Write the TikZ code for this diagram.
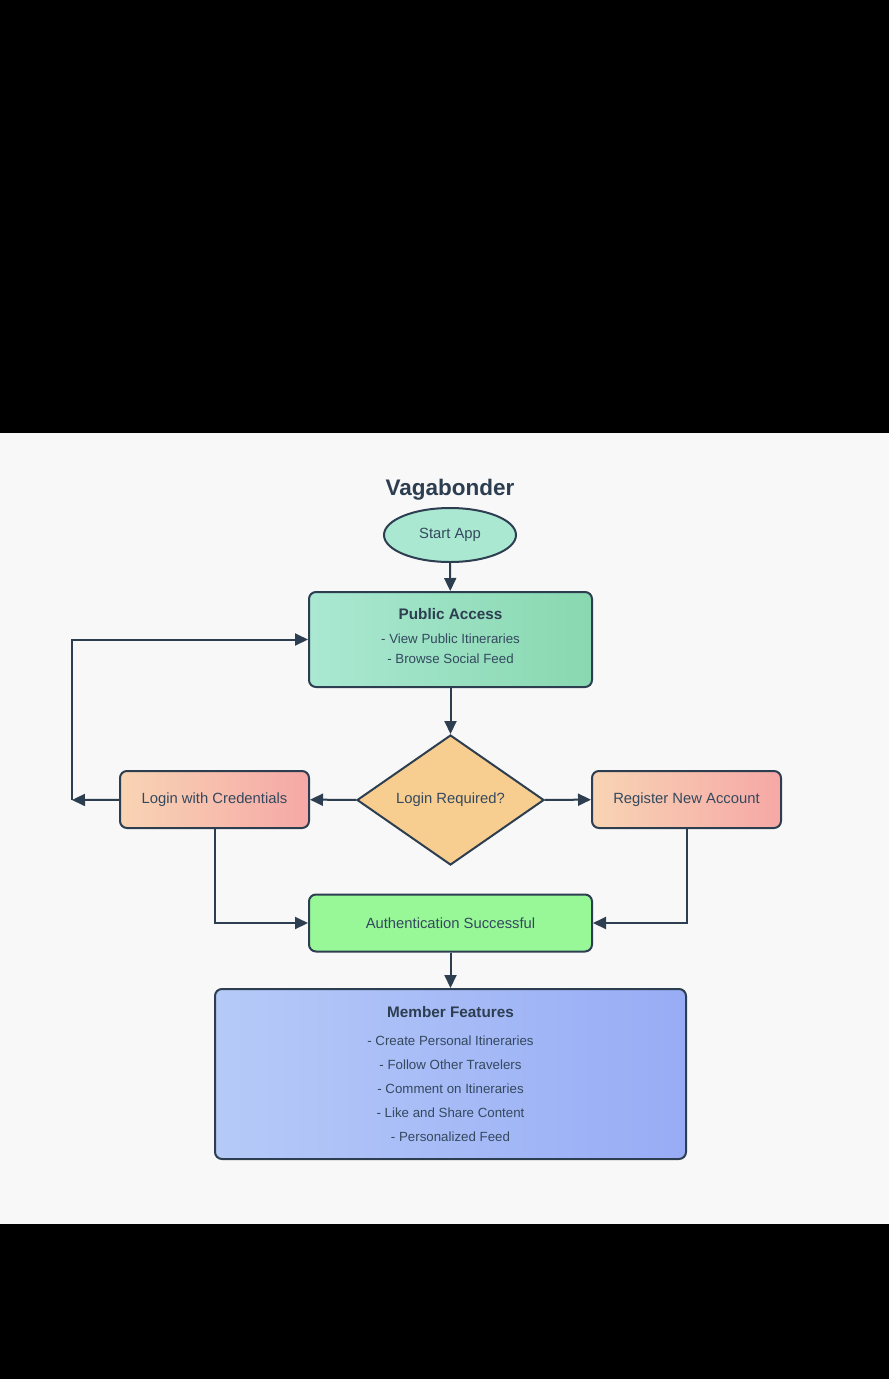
\documentclass[tikz,border=0pt]{standalone}
\usepackage{fontspec}
\setmainfont{Liberation Sans}
\usetikzlibrary{shapes.geometric,arrows.meta}

\definecolor{ink}{HTML}{2C3E50}
\definecolor{txt}{HTML}{34495E}
\definecolor{paper}{HTML}{F8F8F8}
\definecolor{mintA}{HTML}{AAE8D2}
\definecolor{mintB}{HTML}{88D8B0}
\definecolor{peachA}{HTML}{F8D4B4}
\definecolor{peachB}{HTML}{F6A8A6}
\definecolor{amber}{HTML}{F8CE90}
\definecolor{lime}{HTML}{98F898}
\definecolor{blueA}{HTML}{B6CAF8}
\definecolor{blueB}{HTML}{97ACF5}

\tikzset{
  base/.style={draw=ink, line width=2pt, text=txt, inner sep=0pt, align=center},
  box/.style={base, rectangle, rounded corners=7pt},
  flow/.style={draw=ink, line width=2pt, -{Triangle[length=13pt,width=12pt]}},
  body/.style={font=\fontsize{14.8}{17}\selectfont},
  list/.style={text=txt, align=center, inner sep=0pt},
}

\begin{document}
\begin{tikzpicture}[x=1pt,y=-1pt]
  % page and canvas
  \fill[black] (0,0) rectangle (889,1379);
  \fill[paper] (0,433) rectangle (889,1224);
  \useasboundingbox (0,0) rectangle (889,1379);

  % title
  \node[text=ink, font=\fontsize{22.5}{26}\selectfont\bfseries] (title) at (450,490) {Vagabonder};

  % start
  \node[base, ellipse, fill=mintA, minimum width=132pt, minimum height=54pt, body] (start) at (450,535) {Start App};

  % public area: box and its text block
  \node[box, left color=mintA, right color=mintB, minimum width=283pt, minimum height=95pt] (public) at (450.5,639.5) {};
  \node[list, font=\fontsize{13.3}{20}\selectfont] (publictext) at (450.5,636.5)
        {{\fontsize{15.3}{17}\selectfont\bfseries\color{ink}Public Access}\\[4pt]
         - View Public Itineraries\\- Browse Social Feed};

  % decision
  \node[base, diamond, aspect=1.44, fill=amber, minimum width=187pt, minimum height=130pt, body] (decide) at (450.5,800) {Login Required?};

  % login and register
  \node[box, left color=peachA, right color=peachB, minimum width=189pt, minimum height=57pt, body] (login) at (214.5,799.5) {Login with Credentials};
  \node[box, left color=peachA, right color=peachB, minimum width=189pt, minimum height=57pt, body] (register) at (686.5,799.5) {Register New Account};

  % authentication
  \node[box, fill=lime, minimum width=283pt, minimum height=57pt, body] (auth) at (450.5,923) {Authentication Successful};

  % member area
  \node[box, left color=blueA, right color=blueB, minimum width=471pt, minimum height=170pt,
        font=\fontsize{13.3}{24}\selectfont] (member) at (450.5,1074)
        {{\fontsize{15.3}{17}\selectfont\bfseries\color{ink}Member Features}\\[4pt]
         - Create Personal Itineraries\\- Follow Other Travelers\\- Comment on Itineraries\\
         - Like and Share Content\\- Personalized Feed};

  % connectors
  \coordinate (back) at (72,800);
  \draw[flow] (start) -- (public);
  \draw[flow] (public) -- (decide);
  \draw[flow] (decide) -- (login);
  \draw[flow] (decide) -- (register);
  \draw[flow] (login) -- (back);
  \draw[flow] (back) |- (public.west);
  \draw[flow] (login.south) |- (auth.west);
  \draw[flow] (register.south) |- (auth.east);
  \draw[flow] (auth) -- (member);
\end{tikzpicture}
\end{document}
